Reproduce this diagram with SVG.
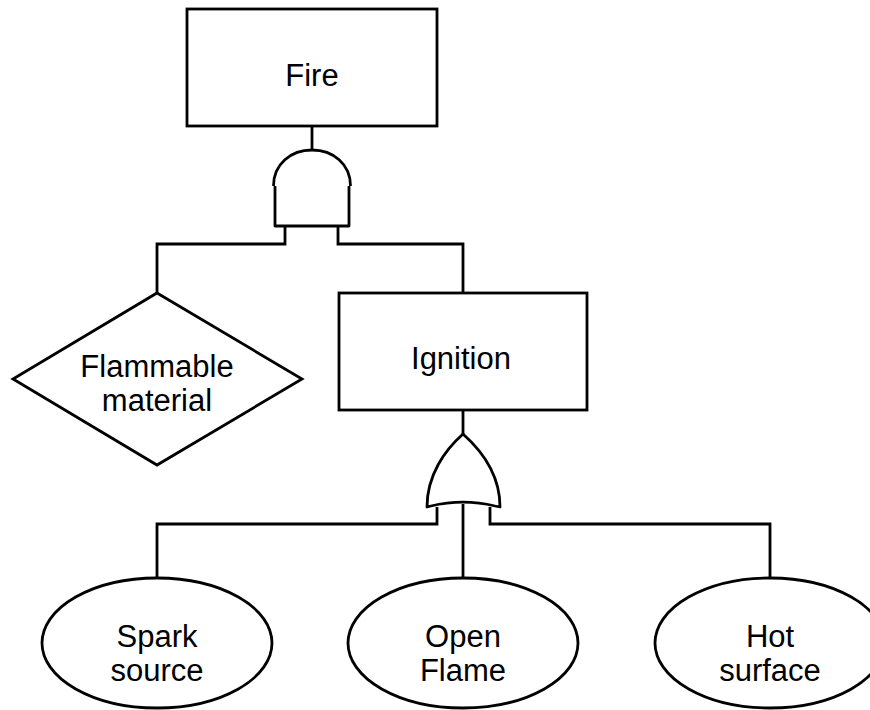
<svg xmlns="http://www.w3.org/2000/svg" width="870" height="710" viewBox="0 0 870 710">
  <style>
    .shape { fill: #ffffff; stroke: #000000; stroke-width: 2.8; stroke-linejoin: miter; }
    .gate { fill: #ffffff; stroke: #000000; stroke-width: 2.8; stroke-linejoin: round; }
    .wire { fill: none; stroke: #000000; stroke-width: 2.8; stroke-linejoin: miter; }
    .label { font-family: "Liberation Sans", Arial, sans-serif; font-size: 31px; fill: #000000; text-anchor: middle; }
  </style>
  <rect width="870" height="710" fill="#ffffff"/>

  <!-- connectors -->
  <g id="connectors">
    <path class="wire" d="M312,126 V150"/>
    <path class="wire" d="M285,226 V244 H157 V293"/>
    <path class="wire" d="M338,226 V244 H463 V293"/>
    <path class="wire" d="M463,410 V434"/>
    <path class="wire" d="M437,507 V524 H157 V578"/>
    <path class="wire" d="M490,507 V524 H770 V578"/>
    <path class="wire" d="M463,504 V578"/>
  </g>

  <!-- top event -->
  <g id="fire">
    <rect class="shape" x="187" y="9" width="250" height="117"/>
    <text class="label" x="312" y="86">Fire</text>
  </g>

  <!-- AND gate -->
  <g id="and-gate">
    <path class="gate" d="M275,186 V226 H349 V186"/>
    <path class="gate" d="M273.5,186 C273.5,164 291,150 312,150 C333,150 350.5,164 350.5,186"/>
  </g>

  <!-- undeveloped event -->
  <g id="flammable-material">
    <polygon class="shape" points="157,293 302,379 157,465 13,379"/>
    <text class="label" x="157" y="377">Flammable</text>
    <text class="label" x="157" y="411">material</text>
  </g>

  <!-- intermediate event -->
  <g id="ignition">
    <rect class="shape" x="339" y="293" width="248" height="117"/>
    <text class="label" x="461" y="369">Ignition</text>
  </g>

  <!-- OR gate -->
  <g id="or-gate">
    <path class="gate" d="M463,434 C445,450 427,475 427,507 L431,506 C452,501 474,501 495,506 L500,507 C500,475 481,450 463,434 Z"/>
  </g>

  <!-- basic events -->
  <g id="spark-source">
    <ellipse class="shape" cx="157" cy="643" rx="115" ry="65"/>
    <text class="label" x="157" y="647">Spark</text>
    <text class="label" x="157" y="681">source</text>
  </g>

  <g id="open-flame">
    <ellipse class="shape" cx="463" cy="643" rx="115" ry="65"/>
    <text class="label" x="463" y="647">Open</text>
    <text class="label" x="463" y="681">Flame</text>
  </g>

  <g id="hot-surface">
    <ellipse class="shape" cx="770" cy="643" rx="115" ry="65"/>
    <text class="label" x="770" y="647">Hot</text>
    <text class="label" x="770" y="681">surface</text>
  </g>
</svg>
